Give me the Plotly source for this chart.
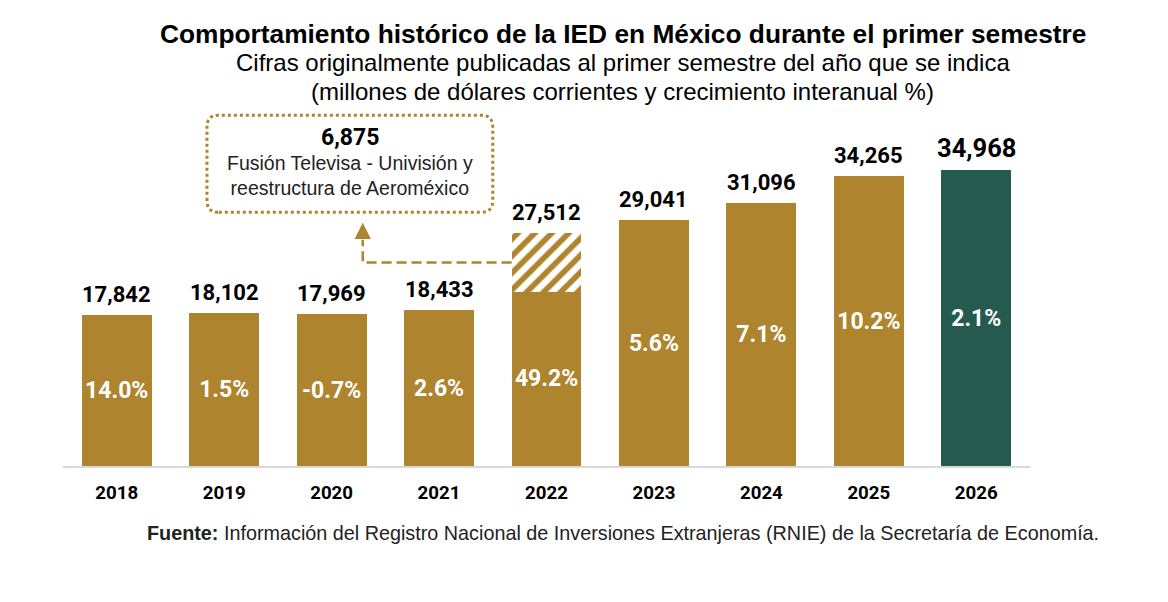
import plotly.graph_objects as go

years = ["2018", "2019", "2020", "2021", "2022", "2023", "2024", "2025", "2026"]
totals = [17842, 18102, 17969, 18433, 27512, 29041, 31096, 34265, 34968]
extraordinary = [0, 0, 0, 0, 6875, 0, 0, 0, 0]
growth = ["14.0%", "1.5%", "-0.7%", "2.6%", "49.2%", "5.6%", "7.1%", "10.2%", "2.1%"]

title = "Comportamiento histórico de la IED en México durante el primer semestre"
subtitle = ["Cifras originalmente publicadas al primer semestre del año que se indica",
            "(millones de dólares corrientes y crecimiento interanual %)"]
note = ["Fusión Televisa - Univisión y", "reestructura de Aeroméxico"]
source = "Información del Registro Nacional de Inversiones Extranjeras (RNIE) de la Secretaría de Economía."

GOLD = "#AE842E"
GREEN = "#255B4E"
NUM_FONT = "Roboto"
TXT_FONT = "Liberation Sans"

base = [t - e for t, e in zip(totals, extraordinary)]
colors = [GOLD] * (len(years) - 1) + [GREEN]

fig = go.Figure()
fig.add_trace(go.Bar(
    x=years, y=base, marker=dict(color=colors, line=dict(width=0)),
    text=growth, textposition="inside", insidetextanchor="middle",
    textfont=dict(family=NUM_FONT, size=23, color="white", weight="bold"),
    textangle=0, hoverinfo="skip",
))
fig.add_trace(go.Bar(
    x=years, y=extraordinary,
    marker=dict(color="white", line=dict(width=0),
                pattern=dict(shape="/", fgcolor=GOLD, fgopacity=1, bgcolor="white",
                             size=12, solidity=0.47)),
    hoverinfo="skip",
))

# value labels above bars (category axis -> numeric index)
for i, tot in enumerate(totals):
    last = i == len(years) - 1
    fig.add_annotation(
        x=i, y=tot, text=f"{tot:,}", showarrow=False, yanchor="bottom", yshift=5 if last else 6,
        font=dict(family=NUM_FONT, size=25.5 if last else 22, color="black", weight="bold"),
    )

# callout box for the extraordinary amount
idx = extraordinary.index(max(extraordinary))
x0, x1 = 0.84, 3.50
y0, y1 = 30000, 41500
rx, ry = 0.11, 1400
path = (f"M {x0+rx},{y0} L {x1-rx},{y0} Q {x1},{y0} {x1},{y0+ry} "
        f"L {x1},{y1-ry} Q {x1},{y1} {x1-rx},{y1} L {x0+rx},{y1} Q {x0},{y1} {x0},{y1-ry} "
        f"L {x0},{y0+ry} Q {x0},{y0} {x0+rx},{y0} Z")
fig.add_shape(type="path", path=path, xref="x", yref="y",
              line=dict(color=GOLD, width=3, dash="dot"))
xc = (x0 + x1) / 2
fig.add_annotation(x=xc, y=y1, yanchor="top", yshift=-7, showarrow=False,
                   text=f"<b>{extraordinary[idx]:,}</b>",
                   font=dict(family=NUM_FONT, size=23, color="black"))
fig.add_annotation(x=xc, y=y1, yanchor="top", yshift=-35, showarrow=False,
                   text="<br>".join(note),
                   font=dict(family=TXT_FONT, size=19.5, color="#222222"))

# dashed connector from hatched part to the box
mid = base[idx] + extraordinary[idx] / 2
xl = idx - 0.325
xa = 2.29
fig.add_shape(type="path", path=f"M {xl},{mid} L {xa},{mid} L {xa},{mid + 2700}",
              xref="x", yref="y", line=dict(color=GOLD, width=2.5, dash="10px,5px"))
fig.add_annotation(x=xa, y=mid + 4700, ax=xa, ay=mid + 2600, xref="x", yref="y",
                   axref="x", ayref="y", text="", showarrow=True, arrowhead=2,
                   arrowsize=1.3, arrowwidth=2.5, arrowcolor=GOLD, standoff=0)

# headings and source
cx = 0.579
fig.add_annotation(xref="paper", yref="paper", x=cx, y=1.208, showarrow=False,
                   text=f"<b>{title}</b>", font=dict(family=TXT_FONT, size=26.3, color="black"))
fig.add_annotation(xref="paper", yref="paper", x=cx, y=1.127, showarrow=False,
                   text=subtitle[0], font=dict(family=TXT_FONT, size=24, color="black"))
fig.add_annotation(xref="paper", yref="paper", x=cx, y=1.048, showarrow=False,
                   text=subtitle[1], font=dict(family=TXT_FONT, size=24, color="black"))
fig.add_annotation(xref="paper", yref="paper", x=cx, y=-0.215, showarrow=False,
                   text=f"<b>Fuente:</b> {source}",
                   font=dict(family=TXT_FONT, size=19.8, color="#222222"))

fig.update_layout(
    width=1160, height=594, barmode="stack", bargap=0.35, showlegend=False,
    plot_bgcolor="white", paper_bgcolor="white",
    margin=dict(l=55, r=138, t=86, b=136),
    xaxis=dict(type="category", range=[-0.5, 8.5], showline=True, linecolor="#D9D9D9", linewidth=2,
               ticks="", ticklabelstandoff=9,
               tickfont=dict(family=NUM_FONT, size=18.7, color="black", weight="bold"),
               showgrid=False),
    yaxis=dict(range=[0, 44000], visible=False, showgrid=False),
)

fig.write_html("out.html")
